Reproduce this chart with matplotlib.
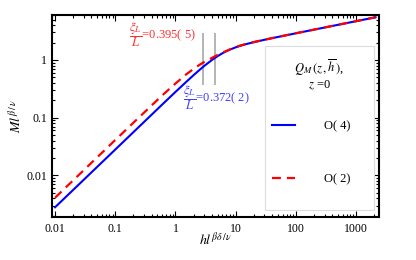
import matplotlib
matplotlib.use('Agg')
import matplotlib.pyplot as plt
from matplotlib.patches import Rectangle

# ---- data ----
h_vals = [0.01, 0.03, 0.1, 0.3, 0.6, 1, 1.5, 2, 2.5, 3, 4, 5, 6, 7, 8, 10, 12, 15,
          20, 30, 50, 100, 200, 500, 1000, 2100]
m_o4 = [0.0028, 0.0084, 0.028, 0.084, 0.168, 0.279, 0.414, 0.545, 0.669, 0.786,
        0.991, 1.161, 1.301, 1.414, 1.507, 1.652, 1.759, 1.880, 2.028, 2.231, 2.496,
        2.892, 3.345, 4.055, 4.689, 5.48]
m_o2 = [0.0041, 0.0123, 0.041, 0.122, 0.242, 0.39, 0.56, 0.70, 0.82, 0.92,
        1.08, 1.22, 1.33, 1.43, 1.52, 1.67, 1.78, 1.90, 2.04, 2.24, 2.50,
        2.895, 3.35, 4.06, 4.69, 5.48]
marker_h = [2.86, 4.46]
marker_m = [0.37, 2.93]
x_ticks = [0.01, 0.1, 1, 10, 100, 1000]
x_tick_labels = ['0.01', '0.1', '1', '10', '100', '1000']
y_ticks = [0.01, 0.1, 1]
y_tick_labels = ['0.01', '0.1', '1']
series_labels = ['O( 4)', 'O( 2)']

plt.rcParams['font.family'] = ['Liberation Serif', 'DejaVu Serif']
plt.rcParams['mathtext.fontset'] = 'stix'

W, H = 416, 260
fig = plt.figure(figsize=(W / 100, H / 100), dpi=100)
L, R, T, B = 52, 379, 15, 217
ax = fig.add_axes([L / W, 1 - B / H, (R - L) / W, (B - T) / H])


def ax_frac(px, py):
    return (px - L) / (R - L), (B - py) / (B - T)


ax.set_xscale('log')
ax.set_yscale('log')
ax.set_xlim(0.0089, 2400)
ax.set_ylim(0.0019, 6.0)

ax.vlines(marker_h, marker_m[0], marker_m[1], color='#a0a0a0', lw=1.1, zorder=2)

l4, = ax.plot(h_vals, m_o4, color='#0000ff', lw=1.5, zorder=4)
l2, = ax.plot(h_vals, m_o2, color='#ff0000', lw=1.6, dashes=(4, 2.7), zorder=5)

ax.set_xticks(x_ticks)
ax.set_xticklabels(x_tick_labels)
ax.set_yticks(y_ticks)
ax.set_yticklabels(y_tick_labels)
ax.tick_params(which='both', direction='in', top=True, right=True, labelsize=8.5,
               width=0.8, color='black')
ax.tick_params(which='major', length=4)
ax.tick_params(which='minor', length=2)
ax.tick_params(axis='x', pad=4)
for s in ax.spines.values():
    s.set_linewidth(1.5)

ax.set_xlabel(r'$hl^{\beta\delta\,/\,\nu}$', fontsize=10, labelpad=-3)
ax.set_ylabel(r'$Ml^{\beta\,/\,\nu}$', fontsize=10, labelpad=2)

# annotations
x0, y0 = ax_frac(129, 35)
ax.text(x0, y0, r'$\dfrac{\xi_L}{L}$' + '=0.395( 5)', transform=ax.transAxes,
        color='#ff3030', fontsize=9, ha='left', va='center')
x0, y0 = ax_frac(183, 98)
ax.text(x0, y0, r'$\dfrac{\xi_L}{L}$' + '=0.372( 2)', transform=ax.transAxes,
        color='#4040ff', fontsize=9, ha='left', va='center')

# legend box
bx0, by0 = ax_frac(265, 210)
bx1, by1 = ax_frac(374, 46)
ax.add_patch(Rectangle((bx0, by0), bx1 - bx0, by1 - by0, transform=ax.transAxes,
                       facecolor='white', edgecolor='#dcdcdc', lw=0.8, zorder=3))
tx, ty = ax_frac(319, 68)
ax.text(tx, ty, r'$Q_M\,(z\,,\overline{h}\,)$,', transform=ax.transAxes, fontsize=9,
        ha='center', va='center', zorder=6)
tx, ty = ax_frac(319, 85)
ax.text(tx, ty, r'$z$ =0', transform=ax.transAxes, fontsize=9,
        ha='center', va='center', zorder=6)

leg = ax.legend([l4, l2], series_labels, loc='upper left',
                bbox_to_anchor=(272 / W, 1 - 120 / H), bbox_transform=fig.transFigure,
                frameon=False, borderpad=0, borderaxespad=0, handlelength=1.85,
                handletextpad=2.3, labelspacing=3.3, fontsize=9)
leg.set_zorder(6)

fig.savefig('out.png', dpi=100)
